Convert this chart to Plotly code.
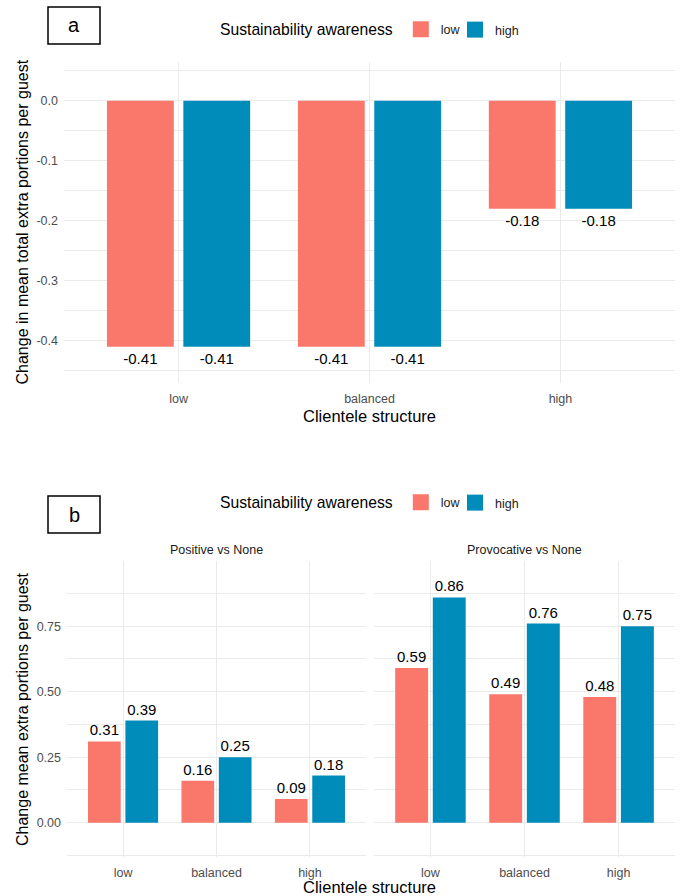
import plotly.graph_objects as go

# Clientele structure categories (x axis)
clientele = ["low", "balanced", "high"]
awareness_levels = ["low", "high"]

# Panel a: change in mean total extra portions per guest
a_low = [-0.41, -0.41, -0.18]
a_high = [-0.41, -0.41, -0.18]

# Panel b: change in mean extra portions per guest, by message type
pos_low = [0.31, 0.16, 0.09]
pos_high = [0.39, 0.25, 0.18]
prov_low = [0.59, 0.49, 0.48]
prov_high = [0.86, 0.76, 0.75]

facet_titles = ["Positive vs None", "Provocative vs None"]

# y tick values and their labels
a_ticks = [0.0, -0.1, -0.2, -0.3, -0.4]
b_ticks = [0.0, 0.25, 0.5, 0.75]

W, H = 681, 896
COL = {"low": "#F9776B", "high": "#008CBA"}
FONT = "Liberation Sans, Arial, sans-serif"
GRID = "#EBEBEB"
TICK = "#4D4D4D"


def px_x(p):
    return p / W


def px_y(p):
    return 1 - p / H


def hyphen(v, nd):
    return f"{v:.{nd}f}".replace("\u2212", "-")


fig = go.Figure()


def add_bars(xa, ya, low, high):
    for name, vals in zip(awareness_levels, (low, high)):
        fig.add_trace(go.Bar(
            x=clientele, y=vals, name=name,
            marker=dict(color=COL[name], line=dict(width=0)),
            text=[hyphen(v, 2) for v in vals],
            textposition="outside",
            textfont=dict(family=FONT, size=15, color="#000000"),
            constraintext="none", cliponaxis=False,
            xaxis=xa, yaxis=ya, showlegend=False,
        ))


def add_legend_keys(xa, ya, legends):
    # square keys for the fill legend, one legend box per level
    for name, legend in zip(awareness_levels, legends):
        fig.add_trace(go.Scatter(
            x=[None], y=[None], mode="markers", name=name,
            marker=dict(symbol="square", size=16, color=COL[name],
                        line=dict(width=0)),
            xaxis=xa, yaxis=ya, legend=legend, showlegend=True,
            hoverinfo="skip",
        ))


add_bars("x", "y", a_low, a_high)
add_bars("x2", "y2", pos_low, pos_high)
add_bars("x3", "y3", prov_low, prov_high)
add_legend_keys("x", "y", ("legend", "legend3"))
add_legend_keys("x2", "y2", ("legend2", "legend4"))

xcommon = dict(
    type="category", categoryorder="array", categoryarray=clientele,
    range=[-0.6, 2.6], showgrid=True, gridcolor=GRID, gridwidth=1,
    zeroline=False, showline=False, ticks="",
    tickfont=dict(family=FONT, size=12.5, color=TICK),
    ticklabelstandoff=6,
)
ycommon = dict(
    showgrid=True, gridcolor=GRID, gridwidth=1, zeroline=False,
    showline=False, ticks="",
    tickfont=dict(family=FONT, size=12.5, color=TICK),
    ticklabelstandoff=5,
)

# panel a geometry: zero line at y=100.7 px, 600 px per unit
ya0, ya_ppu = 100.7, 600.0
a_top, a_bot = 62, 383
# panel b geometry: zero line at y=822.7 px, 262 px per unit
yb0, yb_ppu = 822.7, 262.0
b_top, b_bot = 561, 857

b_minor = dict(showgrid=True, gridcolor=GRID, gridwidth=1,
               tickvals=[-0.125, 0.125, 0.375, 0.625, 0.875])


def legend_box(ypix, xpix, title):
    box = dict(
        orientation="h", x=px_x(xpix), xanchor="left",
        y=px_y(ypix), yanchor="middle",
        font=dict(family=FONT, size=12.5, color="#1A1A1A"),
        bgcolor="rgba(0,0,0,0)", borderwidth=0,
        itemclick=False, itemdoubleclick=False,
    )
    if title:
        box["title"] = dict(text=title, side="left",
                            font=dict(family=FONT, size=15.7,
                                      color="#000000"))
    return box


LEG_TITLE = "Sustainability awareness"

fig.update_layout(
    width=W, height=H,
    margin=dict(l=0, r=0, t=0, b=0),
    paper_bgcolor="white", plot_bgcolor="white",
    barmode="group", bargap=0.2, bargroupgap=0.125,
    font=dict(family=FONT),
    xaxis=dict(xcommon, domain=[px_x(64), px_x(675)], anchor="y"),
    yaxis=dict(ycommon, domain=[px_y(a_bot), px_y(a_top)], anchor="x",
               range=[-(a_bot - ya0) / ya_ppu, (ya0 - a_top) / ya_ppu],
               tickvals=a_ticks, ticktext=[hyphen(v, 1) for v in a_ticks],
               minor=dict(showgrid=True, gridcolor=GRID, gridwidth=1,
                          tickvals=[0.05, -0.05, -0.15, -0.25, -0.35, -0.45])),
    xaxis2=dict(xcommon, domain=[px_x(67), px_x(366)], anchor="y2"),
    yaxis2=dict(ycommon, domain=[px_y(b_bot), px_y(b_top)], anchor="x2",
                range=[-(b_bot - yb0) / yb_ppu, (yb0 - b_top) / yb_ppu],
                tickvals=b_ticks, ticktext=[hyphen(v, 2) for v in b_ticks],
                minor=b_minor),
    xaxis3=dict(xcommon, domain=[px_x(374), px_x(675)], anchor="y3"),
    yaxis3=dict(ycommon, domain=[px_y(b_bot), px_y(b_top)], anchor="x3",
                matches="y2", showticklabels=False, tickvals=b_ticks,
                minor=b_minor),
    legend=legend_box(30, 218, LEG_TITLE),
    legend3=legend_box(30, 455, None),
    legend2=legend_box(503, 218, LEG_TITLE),
    legend4=legend_box(503, 455, None),
)

annotations = []
shapes = []

# panel letters in boxes
for letter, top, bot in (("a", 7, 44), ("b", 496, 533)):
    shapes.append(dict(type="rect", xref="paper", yref="paper",
                       x0=px_x(48), x1=px_x(100), y0=px_y(bot), y1=px_y(top),
                       line=dict(color="#000000", width=1.5),
                       fillcolor="white"))
    annotations.append(dict(text=letter, xref="paper", yref="paper",
                            x=px_x(74), y=px_y((top + bot) / 2),
                            xanchor="center", yanchor="middle",
                            showarrow=False,
                            font=dict(family=FONT, size=20, color="#000000")))

# axis titles
annotations += [
    dict(text="Clientele structure", xref="paper", yref="paper",
         x=px_x(369), y=px_y(416), xanchor="center", yanchor="middle",
         showarrow=False, font=dict(family=FONT, size=16.5, color="#000000")),
    dict(text="Clientele structure", xref="paper", yref="paper",
         x=px_x(369), y=px_y(887), xanchor="center", yanchor="middle",
         showarrow=False, font=dict(family=FONT, size=16.5, color="#000000")),
    dict(text="Change in mean total extra portions per guest", xref="paper",
         yref="paper", x=px_x(22), y=px_y((a_top + a_bot) / 2),
         xanchor="center", yanchor="middle", textangle=-90,
         showarrow=False, font=dict(family=FONT, size=16, color="#000000")),
    dict(text="Change mean extra portions per guest", xref="paper",
         yref="paper", x=px_x(22), y=px_y((b_top + b_bot) / 2),
         xanchor="center", yanchor="middle", textangle=-90,
         showarrow=False, font=dict(family=FONT, size=16, color="#000000")),
]

# facet strip titles
for title, (x0, x1) in zip(facet_titles, ((67, 366), (374, 675))):
    annotations.append(dict(text=title, xref="paper", yref="paper",
                            x=px_x((x0 + x1) / 2), y=px_y(550),
                            xanchor="center", yanchor="middle",
                            showarrow=False,
                            font=dict(family=FONT, size=12.5, color="#1A1A1A")))

fig.update_layout(annotations=annotations, shapes=shapes)

fig.write_html("out.html")
